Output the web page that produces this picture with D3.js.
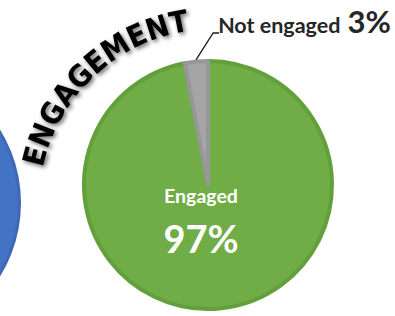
<!DOCTYPE html>
<html><head><meta charset="utf-8">
<script src="https://cdn.jsdelivr.net/npm/d3@7"></script>
<style>html,body{margin:0;padding:0;background:#fff;}svg{display:block;}</style>
</head><body>
<script>
const categories = ["Engaged", "Not engaged"];
const values = [97, 3];
const percentLabels = ["97%", "3%"];
const title = "ENGAGEMENT";

const W = 395, H = 316;
const svg = d3.select("body").append("svg").attr("width", W).attr("height", H);

const defs = svg.append("defs");
const f = defs.append("filter").attr("id", "sh").attr("x", "-20%").attr("y", "-20%").attr("width", "140%").attr("height", "140%");
f.append("feDropShadow").attr("dx", 2).attr("dy", 2).attr("stdDeviation", 2.2).attr("flood-color", "#000").attr("flood-opacity", 0.6);

// partial blue circle on the left
svg.append("circle").attr("cx", -118).attr("cy", 203).attr("r", 137.5)
  .attr("fill", "#4472c4").attr("stroke", "#3f69b6").attr("stroke-width", 3);

// pie
const cx = 208, cy = 185, R = 124;
const fills = ["#70ad47", "#a5a5a5"];
const strokes = ["#63a03c", "#979797"];
const pie = d3.pie().sort(null).value(d => d)(values);
const arc = d3.arc().innerRadius(0).outerRadius(R);
const g = svg.append("g").attr("transform", `translate(${cx},${cy})`);
g.selectAll("path").data(pie).join("path")
  .attr("d", arc)
  .attr("fill", (d, i) => fills[i])
  .attr("stroke", (d, i) => strokes[i])
  .attr("stroke-width", 4)
  .attr("stroke-linejoin", "round");

// inner label for Engaged
const font = "Lato, 'Open Sans', sans-serif";
g.append("text").attr("x", -7).attr("y", 18).attr("text-anchor", "middle")
  .attr("font-family", font).attr("font-weight", 700).attr("font-size", 19.5)
  .attr("fill", "#fff").text(categories[0]);
g.append("text").attr("x", -7).attr("y", 68).attr("text-anchor", "middle")
  .attr("font-family", font).attr("font-weight", 700).attr("font-size", 38)
  .attr("fill", "#fff").text(percentLabels[0]);

// leader line for Not engaged
const s = pie[1];
const mid = (s.startAngle + s.endAngle) / 2;
const p0 = [Math.sin(mid) * (R + 2), -Math.cos(mid) * (R + 2)];
const p1 = [p0[0] + 17, -152];
const p2 = [p1[0] + 6, -152];
g.append("path").attr("d", d3.line()([p0, p1, p2])).attr("fill", "none")
  .attr("stroke", "#1a1a1a").attr("stroke-width", 1.3);

const lbl = g.append("text").attr("x", p2[0] - 1).attr("y", -152)
  .attr("font-family", font).attr("font-weight", 700).attr("fill", "#262626");
lbl.append("tspan").attr("font-size", 21.5).text(categories[1]);
lbl.append("tspan").attr("dx", 7).attr("font-size", 31).text(percentLabels[1]);

// curved title
const tcx = 214, tcy = 204, tr = 175;
const a0 = -105 * Math.PI / 180, a1 = 19 * Math.PI / 180;
const pt = a => [tcx + tr * Math.sin(a), tcy - tr * Math.cos(a)];
const [sx, sy] = pt(a0), [ex, ey] = pt(a1);
defs.append("path").attr("id", "tp")
  .attr("d", `M${sx},${sy} A${tr},${tr} 0 0 1 ${ex},${ey}`);
svg.append("text").attr("font-family", "'DejaVu Sans', Verdana, sans-serif")
  .attr("font-weight", 700).attr("font-size", 30).attr("fill", "#000")
  .attr("filter", "url(#sh)")
  .append("textPath").attr("href", "#tp").attr("startOffset", "50%")
  .attr("text-anchor", "middle").attr("textLength", 214).attr("lengthAdjust", "spacingAndGlyphs")
  .text(title);
</script>
</body></html>
